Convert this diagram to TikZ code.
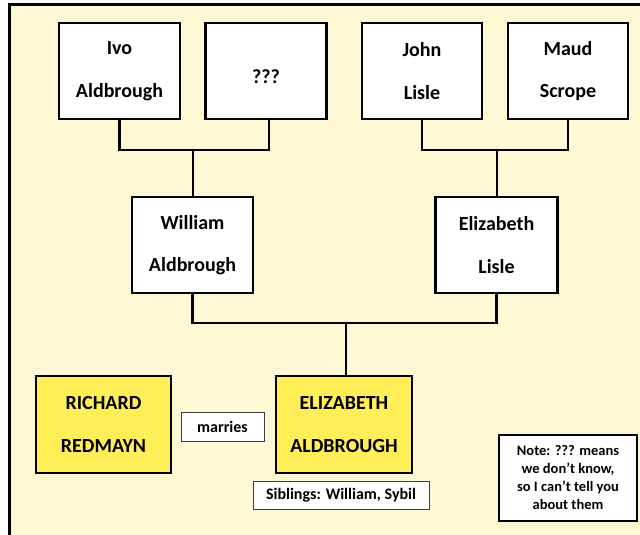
\documentclass[tikz,border=0pt]{standalone}
\usepackage{fontspec}
\setmainfont{Carlito}
\definecolor{bgyellow}{RGB}{255,248,212}
\definecolor{boxyellow}{RGB}{255,238,88}
\definecolor{thinline}{RGB}{60,60,60}
\begin{document}
\begin{tikzpicture}[x=1pt,y=-1pt,
  person/.style={draw=black,line width=2.5pt,fill=white,align=center,inner sep=0pt,
    font=\fontsize{20}{42.5}\selectfont\bfseries,minimum width=121pt,minimum height=96pt},
  mainperson/.style={person,fill=boxyellow,line width=2.8pt,minimum width=135pt,minimum height=97pt},
  label/.style={draw=thinline,line width=1pt,fill=white,inner sep=0pt,
    font=\fontsize{16}{19}\selectfont\bfseries},
  notebox/.style={draw=black,line width=2.8pt,fill=white,align=center,inner sep=0pt,
    font=\fontsize{14.5}{18}\selectfont\bfseries,minimum width=138pt,minimum height=86pt},
  conn/.style={draw=black,line width=2.5pt}]
\useasboundingbox (0,0) rectangle (640,535);
\draw[line width=3pt,fill=bgyellow] (9.5,4.5) rectangle (660,560);

\node[person] (ivo) at (119.5,71) {Ivo\\Aldbrough};
\node[person,align=none,text height=26pt,text depth=0pt] (q) at (266,71) {???};
\node[person,minimum width=120pt] (john) at (422,71) {John\\Lisle};
\node[person,minimum width=120pt] (maud) at (568,71) {Maud\\Scrope};
\node[person] (will) at (192.5,245) {William\\Aldbrough};
\node[person,minimum width=122pt] (eliz) at (496.5,245) {Elizabeth\\Lisle};
\node[mainperson] (rich) at (103.5,424.5) {RICHARD\\REDMAYN};
\node[mainperson,minimum width=136pt] (ea) at (344,424.5) {ELIZABETH\\ALDBROUGH};
\node[label,minimum width=83pt,minimum height=29pt] (mar) at (222.5,426.5) {marries};
\node[label,minimum width=176pt,minimum height=28pt] (sib) at (341,495) {Siblings: William, Sybil};
\node[notebox] (note) at (568,478) {Note: ??? means\\we don’t know,\\so I can’t tell you\\about them};

\coordinate (j1) at (193,150);
\coordinate (j2) at (497,150);
\coordinate (j3) at (346,323);

\draw[conn] (ivo.south) |- (j1) -| ([xshift=3pt]q.south);
\draw[conn] (j1) -- (j1 |- will.north);
\draw[conn] (john.south) |- (j2) -| (maud.south);
\draw[conn] (j2) -- (j2 |- eliz.north);
\draw[conn] (will.south) |- (j3) -| (eliz.south);
\draw[conn] (j3) -- (j3 |- ea.north);
\end{tikzpicture}
\end{document}
